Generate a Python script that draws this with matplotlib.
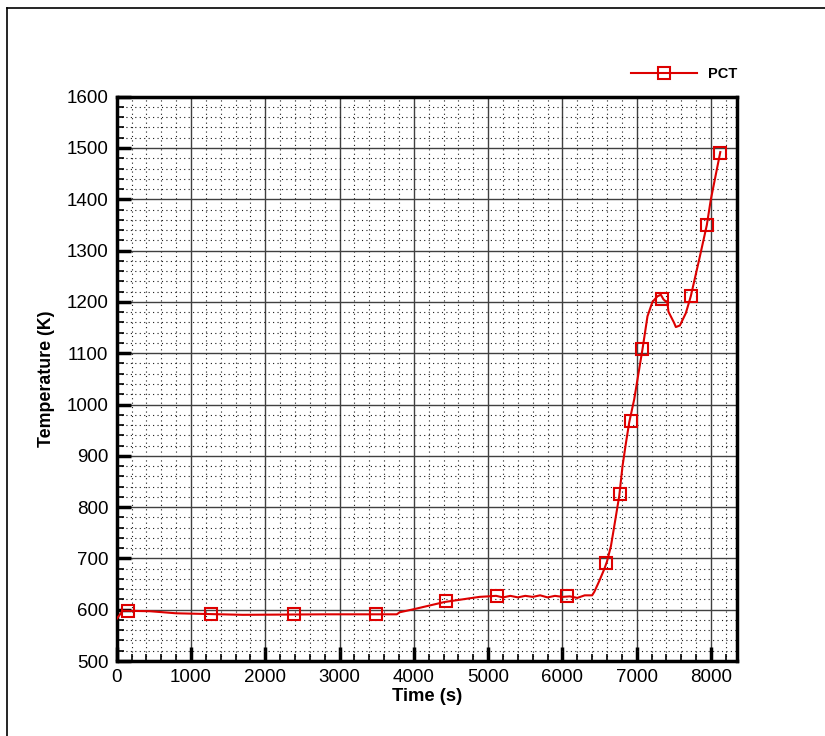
import matplotlib
matplotlib.use("Agg")
import matplotlib.pyplot as plt
from matplotlib.lines import Line2D
from matplotlib.ticker import MultipleLocator

plt.rcParams['font.family'] = ['Liberation Sans', 'DejaVu Sans']

# PCT curve (time in s, temperature in K)
time_s = [0, 80, 450, 800, 1700, 2830, 3770, 3810, 4000, 4413, 4883, 5000, 5107,
          5200, 5300, 5400, 5500, 5600, 5700, 5800, 5900, 6000, 6100, 6200, 6300,
          6400, 6430, 6496, 6563, 6600, 6653, 6698, 6765, 6809, 6855, 6899, 6966,
          7078, 7145, 7212, 7280, 7325, 7360, 7414, 7427, 7504, 7527, 7581, 7661,
          7728, 7840, 7944, 7997, 8125]
pct_K = [582, 598, 597, 593, 590, 591, 591, 595, 601, 615, 625, 626, 627,
         624, 627, 624, 627, 625, 628, 624, 627, 625, 626, 623, 628,
         628, 635, 656, 679, 694, 724, 763, 822, 880, 925, 965, 1010,
         1108, 1172, 1200, 1211, 1214, 1205, 1198, 1181, 1159, 1151, 1154, 1178,
         1211, 1282, 1350, 1399, 1492]

# marker symbols along the curve
marker_time = [153, 1270, 2386, 3488, 4430, 5116, 6056, 6593, 6781, 6929, 7077,
               7345, 7725, 7940, 8125]
marker_K = [598, 592, 591, 591, 616, 626, 626, 692, 826, 967, 1108,
            1205, 1211, 1350, 1491]

series_label = "PCT"
x_label = "Time (s)"
y_label = "Temperature (K)"

red = "#DD0000"

fig = plt.figure(figsize=(8.25, 7.36), dpi=100)
W, H = 825, 736
ax = fig.add_axes([116.7 / W, 1 - 661 / H, (737 - 116.7) / W, (661 - 96.7) / H])

ax.plot(time_s, pct_K, color=red, lw=1.5, zorder=3)
ax.plot(marker_time, marker_K, ls='none', marker='s', ms=8, mfc='none',
        mec=red, mew=1.5, zorder=4)

ax.set_xlim(0, 8350)
ax.set_ylim(500, 1600)
ax.xaxis.set_major_locator(MultipleLocator(1000))
ax.xaxis.set_minor_locator(MultipleLocator(200))
ax.yaxis.set_major_locator(MultipleLocator(100))
ax.yaxis.set_minor_locator(MultipleLocator(20))

ax.grid(which='major', color='0.25', lw=1.0, ls='-', zorder=1)
ax.grid(which='minor', color='0.1', lw=0.8, ls=(0, (1, 3)), zorder=1)
ax.set_axisbelow(True)

ax.tick_params(which='major', direction='in', length=10, width=2.5,
               labelsize=13.5, pad=6, top=False, right=False)
ax.tick_params(which='minor', direction='in', length=5, width=1.2,
               top=False, right=False)
for s in ax.spines.values():
    s.set_linewidth(2.5)
    s.set_color('black')

ax.set_xlabel(x_label, fontsize=13.3, fontweight='bold', labelpad=1)
ax.set_ylabel(y_label, fontsize=12.8, fontweight='bold', labelpad=8)

handle = Line2D([], [], color=red, lw=1.5, marker='s', ms=8, mfc='none',
                mec=red, mew=1.5)
fig.legend([handle], [series_label], loc='center left',
           bbox_to_anchor=(631 / W, 1 - 74 / H), frameon=False,
           handlelength=4.5, handletextpad=0.8, borderpad=0, borderaxespad=0,
           prop={'size': 10.5, 'weight': 'bold'})

# page frame (left and top lines)
fig.add_artist(Line2D([7 / W, 7 / W], [0, 1 - 8 / H], color='black', lw=1.2,
                      transform=fig.transFigure))
fig.add_artist(Line2D([7 / W, 1], [1 - 8 / H, 1 - 8 / H], color='black', lw=1.2,
                      transform=fig.transFigure))

fig.savefig("out.png", dpi=100)
